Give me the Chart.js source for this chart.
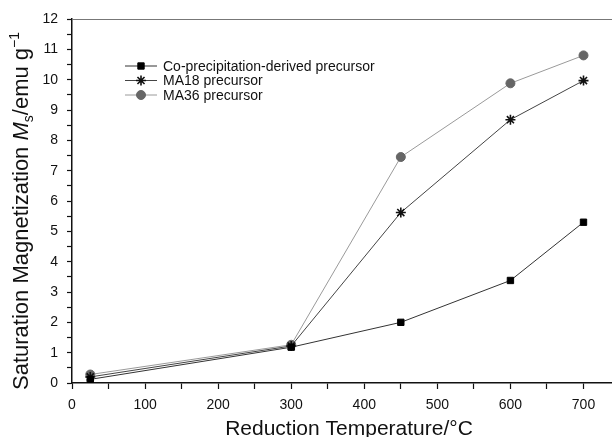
<!DOCTYPE html>
<html>
<head>
<meta charset="utf-8">
<script src="https://cdn.jsdelivr.net/npm/chart.js@4.4.1/dist/chart.umd.min.js"></script>
<style>
  html, body { margin: 0; padding: 0; background: #fff; overflow: hidden; }
  #wrap { width: 612px; height: 437px; }
</style>
</head>
<body>
<div id="wrap"><canvas id="chart" width="612" height="437"></canvas></div>
<script>
// reduction temperatures (°C)
const temperatures = [25, 300, 450, 600, 700];
// saturation magnetization Ms (emu/g)
const coPrecip = [0.12, 1.18, 2.0, 3.38, 5.3];
const ma18 = [0.2, 1.22, 5.62, 8.68, 9.97];
const ma36 = [0.28, 1.26, 7.45, 9.88, 10.8];

const seriesNames = ["Co-precipitation-derived precursor", "MA18 precursor", "MA36 precursor"];
const xTickLabels = [0, 100, 200, 300, 400, 500, 600, 700];
const yTickLabels = [0, 1, 2, 3, 4, 5, 6, 7, 8, 9, 10, 11, 12];

const fontFamily = "'Liberation Sans', Arial, sans-serif";
const textColor = "#111";

function toPoints(vals) {
    return temperatures.map(function (t, i) { return { x: t, y: vals[i] }; });
}

// legend drawn by hand so the line runs through the marker
const legendPlugin = {
    id: "lineLegend",
    afterDraw(chart) {
        const ctx = chart.ctx;
        const rows = [66, 80.5, 95];
        ctx.save();
        chart.data.datasets.forEach(function (ds, i) {
            const y = rows[i];
            ctx.strokeStyle = ds.borderColor;
            ctx.lineWidth = 1;
            ctx.beginPath();
            ctx.moveTo(125, y);
            ctx.lineTo(157, y);
            ctx.stroke();
            ctx.fillStyle = ds.pointBackgroundColor;
            ctx.strokeStyle = ds.pointBorderColor;
            ctx.lineWidth = ds.pointBorderWidth || 1;
            Chart.helpers.drawPoint(ctx, {
                pointStyle: ds.pointStyle,
                radius: ds.pointRadius,
                borderWidth: ds.pointBorderWidth || 1
            }, 141, y);
            ctx.fillStyle = textColor;
            ctx.font = "14px " + fontFamily;
            ctx.textBaseline = "middle";
            ctx.textAlign = "left";
            ctx.fillText(ds.label, 163, y + 1);
        });
        ctx.restore();
    }
};

// axis titles + top frame line
const titlesPlugin = {
    id: "axisTitles",
    afterDraw(chart) {
        const ctx = chart.ctx;
        const area = chart.chartArea;
        ctx.save();
        // top frame
        ctx.strokeStyle = "#777";
        ctx.lineWidth = 1;
        ctx.beginPath();
        ctx.moveTo(area.left, area.top + 0.5);
        ctx.lineTo(area.right, area.top + 0.5);
        ctx.stroke();

        ctx.fillStyle = textColor;
        ctx.textBaseline = "alphabetic";

        // x title
        ctx.font = "21px " + fontFamily;
        ctx.textAlign = "center";
        ctx.fillText("Reduction Temperature/°C", 349, 435);

        // y title, rich text rotated
        const parts = [
            { t: "Saturation Magnetization ", f: "22px " + fontFamily, dy: 0 },
            { t: "M", f: "italic 22px " + fontFamily, dy: 0 },
            { t: "s", f: "14px " + fontFamily, dy: 5 },
            { t: "/emu g", f: "22px " + fontFamily, dy: 0 },
            { t: "\u22121", f: "14px " + fontFamily, dy: -9 }
        ];
        let total = 0;
        parts.forEach(function (p) { ctx.font = p.f; p.w = ctx.measureText(p.t).width; total += p.w; });
        ctx.translate(28, 211);
        ctx.rotate(-Math.PI / 2);
        ctx.textAlign = "left";
        let x = -total / 2;
        parts.forEach(function (p) {
            ctx.font = p.f;
            ctx.fillText(p.t, x, p.dy);
            x += p.w;
        });
        ctx.restore();
    }
};

new Chart(document.getElementById("chart"), {
    type: "line",
    data: {
        datasets: [{
            label: seriesNames[0],
            data: toPoints(coPrecip),
            borderColor: "#333",
            borderWidth: 1,
            pointStyle: "rect",
            pointRadius: 4.5,
            pointBackgroundColor: "#000",
            pointBorderColor: "#000",
            pointBorderWidth: 1
        }, {
            label: seriesNames[1],
            data: toPoints(ma18),
            borderColor: "#444",
            borderWidth: 1,
            pointStyle: "star",
            pointRadius: 5,
            pointBackgroundColor: "#111",
            pointBorderColor: "#111",
            pointBorderWidth: 1.6
        }, {
            label: seriesNames[2],
            data: toPoints(ma36),
            borderColor: "#9a9a9a",
            borderWidth: 1,
            pointStyle: "circle",
            pointRadius: 4.5,
            pointBackgroundColor: "#666",
            pointBorderColor: "#666",
            pointBorderWidth: 1
        }]
    },
    options: {
        responsive: false,
        animation: false,
        layout: { autoPadding: false, padding: { top: 19, right: 0, left: 0, bottom: 0 } },
        plugins: {
            legend: { display: false },
            tooltip: { enabled: false }
        },
        scales: {
            x: {
                type: "linear",
                min: 0,
                max: 739,
                afterFit: function (scale) {
                    scale.height = 54;
                    scale.paddingLeft = 0;
                    scale.paddingRight = 0;
                },
                afterBuildTicks: function (scale) {
                    const t = [];
                    for (let v = 0; v <= 700; v += 50) t.push({ value: v });
                    scale.ticks = t;
                },
                ticks: {
                    autoSkip: false,
                    maxRotation: 0,
                    color: textColor,
                    font: { size: 14, family: fontFamily },
                    padding: 8,
                    callback: function (v) { return xTickLabels.includes(v) ? String(v) : ""; }
                },
                grid: {
                    drawOnChartArea: false,
                    drawTicks: true,
                    tickLength: 6,
                    tickColor: "#111",
                    tickWidth: 1.2
                },
                border: { display: true, color: "#111", width: 1.5 }
            },
            y: {
                min: 0,
                max: 12,
                afterFit: function (scale) {
                    scale.width = 72;
                    scale.paddingTop = 0;
                    scale.paddingBottom = 0;
                },
                afterBuildTicks: function (scale) {
                    const t = [];
                    for (let v = 0; v <= 12; v += 0.5) t.push({ value: v });
                    scale.ticks = t;
                },
                ticks: {
                    autoSkip: false,
                    color: textColor,
                    font: { size: 14, family: fontFamily },
                    padding: 9,
                    callback: function (v) { return yTickLabels.includes(v) ? String(v) : ""; }
                },
                grid: {
                    drawOnChartArea: false,
                    drawTicks: true,
                    tickLength: 5,
                    tickColor: "#111",
                    tickWidth: 1.2
                },
                border: { display: true, color: "#111", width: 1.5 }
            }
        }
    },
    plugins: [legendPlugin, titlesPlugin]
});
</script>
</body>
</html>
